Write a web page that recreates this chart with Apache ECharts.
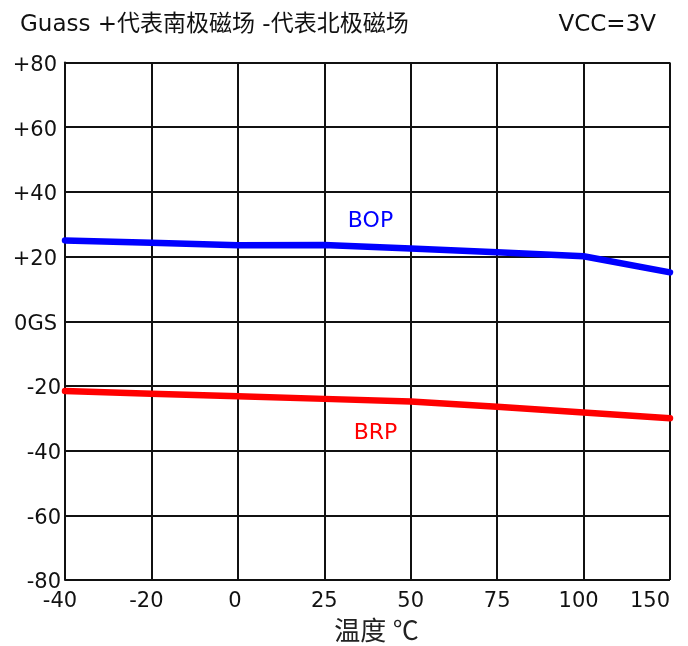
<!DOCTYPE html>
<html>
<head>
<meta charset="utf-8">
<style>
  html, body { margin: 0; padding: 0; background: #fff; }
  #chart { width: 688px; height: 646px; }
</style>
<script src="https://cdn.jsdelivr.net/npm/echarts@6/dist/echarts.min.js"></script>
</head>
<body>
<div id="chart"></div>
<script>
// Temperature points (°C), evenly spaced on the axis
const temperatures = ['-40', '-20', '0', '25', '50', '75', '100', '150'];
// Operate point (south pole field, Gauss)
const bopValues = [25.0, 24.3, 23.5, 23.6, 22.5, 21.3, 20.1, 15.1];
// Release point (north pole field, Gauss)
const brpValues = [-21.6, -22.4, -23.2, -24.0, -24.8, -26.4, -28.2, -30.0];
// Vertical tick texts
const yTickText = { 80: '+80', 60: '+60', 40: '+40', 20: '+20', 0: '0GS',
                    '-20': '-20', '-40': '-40', '-60': '-60', '-80': '-80' };

const latin = 'DejaVu Sans, "Noto Sans CJK SC", sans-serif';
const chart = echarts.init(document.getElementById('chart'));

// Temperature labels with a leading minus sit a little left of their tick
function xLabel(v) {
  if (v.charAt(0) === '-') return '{w|' + v + '}';
  if (v === '0') return '{z|' + v + '}';
  if (v === '100') return '{w|' + v + '}';
  return '{d|' + v + '}';
}

chart.setOption({
  animation: false,
  backgroundColor: '#fff',
  title: [
    { text: 'Guass +代表南极磁场 -代表北极磁场', left: 15, top: 9,
      textStyle: { fontFamily: latin, fontSize: 23, fontWeight: 'normal', color: '#111' } },
    { text: 'VCC=3V', right: 27, top: 9,
      textStyle: { fontFamily: latin, fontSize: 23, fontWeight: 'normal', color: '#111' } }
  ],
  grid: { left: 65, right: 18, top: 62.5, bottom: 66, containLabel: false, outerBoundsMode: 'none' },
  xAxis: {
    type: 'category',
    data: temperatures,
    boundaryGap: false,
    name: '温度 ℃',
    nameLocation: 'middle',
    nameGap: 40,
    nameTextStyle: { fontFamily: '"Liberation Serif", "Noto Sans CJK SC", serif', fontSize: 26, color: '#222', padding: [0, 0, 0, 18] },
    axisLine: { lineStyle: { color: '#111', width: 2 } },
    axisTick: { show: false, interval: 0 },
    axisLabel: {
      interval: 0, hideOverlap: false,
      fontFamily: latin, fontSize: 21, color: '#111', margin: 11,
      alignMaxLabel: 'right',
      formatter: xLabel,
      rich: {
        w: { fontFamily: latin, fontSize: 21, color: '#111', padding: [0, 10, 0, 0] },
        z: { fontFamily: latin, fontSize: 21, color: '#111', padding: [0, 6, 0, 0] },
        d: { fontFamily: latin, fontSize: 21, color: '#111' }
      }
    },
    splitLine: { show: true, interval: 0, lineStyle: { color: '#111', width: 2 } }
  },
  yAxis: {
    type: 'value',
    min: -80, max: 80, interval: 20,
    axisLine: { show: true, lineStyle: { color: '#111', width: 2 } },
    axisTick: { show: false },
    axisLabel: {
      fontFamily: latin, fontSize: 21, color: '#111', margin: 4,
      formatter: v => v < 0 ? '{n|' + yTickText[v] + '}' : '{p|' + yTickText[v] + '}',
      rich: {
        p: { fontFamily: latin, fontSize: 21, color: '#111', padding: [6, 4, 0, 0] },
        n: { fontFamily: latin, fontSize: 21, color: '#111', padding: [6, 0, 0, 0] }
      }
    },
    splitLine: { show: true, lineStyle: { color: '#111', width: 2 } }
  },
  series: [
    { name: 'BOP', type: 'line', data: bopValues, symbol: 'none',
      lineStyle: { color: '#0000ff', width: 6.5, cap: 'round' }, z: 5 },
    { name: 'BRP', type: 'line', data: brpValues, symbol: 'none',
      lineStyle: { color: '#ff0000', width: 6.5, cap: 'round' }, z: 5 }
  ]
});

// Series names placed between the 25 °C and 50 °C columns
const midX = (chart.convertToPixel({ xAxisIndex: 0 }, '25') + chart.convertToPixel({ xAxisIndex: 0 }, '50')) / 2;
const bopY = chart.convertToPixel({ yAxisIndex: 0 }, 31.0);
const brpY = chart.convertToPixel({ yAxisIndex: 0 }, -34.5);
chart.setOption({
  graphic: [
    { type: 'text', x: midX + 3, y: bopY, z: 10,
      style: { text: 'BOP', font: '22px ' + latin, fill: '#0000ff', align: 'center', verticalAlign: 'middle' } },
    { type: 'text', x: midX + 8, y: brpY, z: 10,
      style: { text: 'BRP', font: '22px ' + latin, fill: '#ff0000', align: 'center', verticalAlign: 'middle' } }
  ]
});
</script>
</body>
</html>
